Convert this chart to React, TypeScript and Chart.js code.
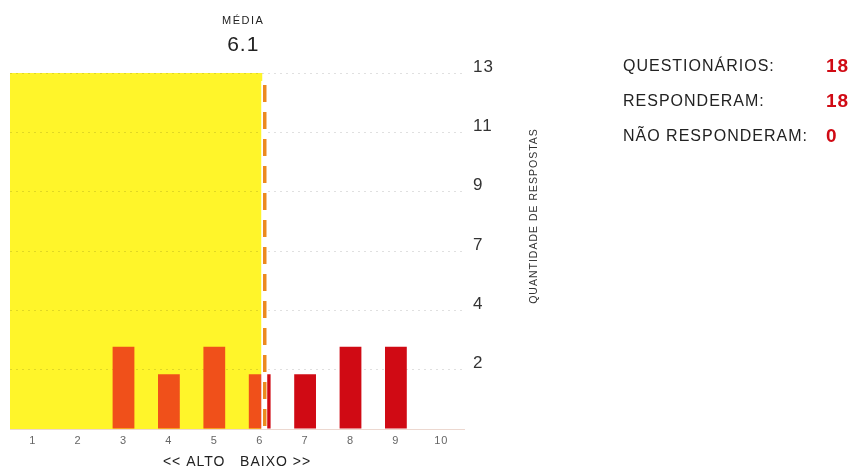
import { useEffect, useRef } from "react";
import { Chart, registerables } from "chart.js";

Chart.register(...registerables);

const CATEGORIES = ["1", "2", "3", "4", "5", "6", "7", "8", "9", "10"];
const RESPONSES = [0, 0, 3, 2, 3, 2, 2, 3, 3, 0];
const Y_MAX = 13;
const Y_STEPS = 6;
const MEAN = 6.1;
const MEAN_LABEL = "6.1";
const MEAN_TITLE = "MÉDIA";
const X_TITLE = "<< ALTO   BAIXO >>";
const Y_TITLE = "QUANTIDADE DE RESPOSTAS";
const STAT_LABELS = ["QUESTIONÁRIOS:", "RESPONDERAM:", "NÃO RESPONDERAM:"];
const STAT_VALUES = ["18", "18", "0"];

const FONT = "'Liberation Sans', Arial, Helvetica, sans-serif";
const YELLOW = "#fff52a";
const ORANGE = "#f0501a";
const RED = "#d00a14";
const DASH_ORANGE = "#ec8a1e";

function meanPixel(chart: any): number {
  const x = chart.scales.x;
  return x.getPixelForValue(MEAN - 1);
}

const overlayPlugin = {
  id: "overlay",
  beforeDraw(chart: any) {
    const { ctx, chartArea: a } = chart;
    (ctx as any).letterSpacing = "1px";
    if (!a) return;
    const mx = meanPixel(chart);
    ctx.save();
    ctx.fillStyle = YELLOW;
    ctx.fillRect(a.left, a.top, mx - 2 - a.left, a.bottom - a.top);
    ctx.restore();
  },
  afterDatasetsDraw(chart: any) {
    const { ctx, chartArea: a } = chart;
    const mx = meanPixel(chart);
    ctx.save();
    ctx.strokeStyle = "#ffffff";
    ctx.lineWidth = 6;
    ctx.beginPath();
    ctx.moveTo(mx, a.top + 8);
    ctx.lineTo(mx, a.bottom);
    ctx.stroke();
    ctx.strokeStyle = DASH_ORANGE;
    ctx.lineWidth = 3.5;
    ctx.setLineDash([17, 10]);
    ctx.beginPath();
    ctx.moveTo(mx + 0.5, a.top + 12);
    ctx.lineTo(mx + 0.5, a.bottom);
    ctx.stroke();
    ctx.restore();
  },
  afterDraw(chart: any) {
    const { ctx } = chart;
    const mx = meanPixel(chart);
    ctx.save();
    ctx.fillStyle = "#222";
    ctx.textAlign = "center";
    ctx.textBaseline = "middle";
    (ctx as any).letterSpacing = "1.5px";
    ctx.font = `11px ${FONT}`;
    ctx.fillText(MEAN_TITLE, mx - 21, 21);
    (ctx as any).letterSpacing = "1px";
    ctx.font = `21px ${FONT}`;
    ctx.fillText(MEAN_LABEL, mx - 21, 45);

    // right axis title
    ctx.save();
    ctx.translate(534, 216);
    ctx.rotate(-Math.PI / 2);
    ctx.font = `10.5px ${FONT}`;
    ctx.fillStyle = "#333";
    ctx.fillText(Y_TITLE, 0, 0);
    ctx.restore();

    // stats
    const rows = [67, 102, 137];
    ctx.textAlign = "left";
    STAT_LABELS.forEach((label, i) => {
      ctx.font = `16px ${FONT}`;
      ctx.fillStyle = "#222";
      ctx.fillText(label, 623, rows[i]);
      ctx.font = `bold 19px ${FONT}`;
      ctx.fillStyle = RED;
      ctx.fillText(STAT_VALUES[i], 826, rows[i]);
    });
    ctx.restore();
  },
};

export default function App() {
  const ref = useRef<HTMLCanvasElement | null>(null);

  useEffect(() => {
    if (!ref.current) return;
    const chart = new Chart(ref.current, {
      type: "bar",
      data: {
        labels: CATEGORIES,
        datasets: [
          {
            data: RESPONSES,
            backgroundColor: (c: any) => {
              const ch = c.chart;
              const a = ch.chartArea;
              if (!a) return RED;
              const mx = meanPixel(ch);
              const g = ch.ctx.createLinearGradient(a.left, 0, a.right, 0);
              const t = Math.min(Math.max((mx - 3 - a.left) / (a.right - a.left), 0), 1);
              g.addColorStop(0, ORANGE);
              g.addColorStop(t, ORANGE);
              g.addColorStop(t, RED);
              g.addColorStop(1, RED);
              return g;
            },
            borderWidth: 0,
            barPercentage: 0.48,
            categoryPercentage: 1,
          },
        ],
      },
      options: {
        responsive: false,
        animation: false,
        devicePixelRatio: 1,
        layout: { padding: { left: 10, top: 73, right: 335, bottom: 0 } },
        plugins: { legend: { display: false }, tooltip: { enabled: false } },
        scales: {
          x: {
            grid: { display: false },
            border: { display: true, color: "#ecd8d0", width: 1 },
            ticks: {
              color: "#666",
              font: { size: 11, family: FONT },
              padding: -3,
              maxRotation: 0,
            },
            title: {
              display: true,
              text: X_TITLE,
              color: "#222",
              font: { size: 14, family: FONT },
              padding: { top: 0, bottom: 0 },
            },
            afterFit: (s: any) => {
              s.height = 42;
            },
          },
          y: {
            position: "right",
            min: 0,
            max: Y_MAX,
            afterBuildTicks: (s: any) => {
              const t = [];
              for (let i = 0; i <= Y_STEPS; i++) t.push({ value: (i * Y_MAX) / Y_STEPS });
              s.ticks = t;
            },
            grid: {
              drawTicks: false,
              color: (c: any) => (c.index === 0 ? "rgba(0,0,0,0)" : "rgba(0,0,0,0.12)"),
              lineWidth: 1,
            },
            border: { display: false, dash: [2, 4] },
            ticks: {
              color: "#333",
              font: { size: 17, family: FONT },
              padding: 9,
              labelOffset: -6,
              callback: (v: any) => (v === 0 ? "" : String(Math.round(Number(v)))),
            },
            afterFit: (s: any) => {
              s.width = 60;
            },
          },
        },
      },
      plugins: [overlayPlugin],
    });
    return () => chart.destroy();
  }, []);

  return (
    <div style={{ position: "absolute", left: 0, top: 0, width: 859, height: 471, background: "#fff" }}>
      <canvas ref={ref} width={859} height={471} style={{ display: "block" }} />
    </div>
  );
}
